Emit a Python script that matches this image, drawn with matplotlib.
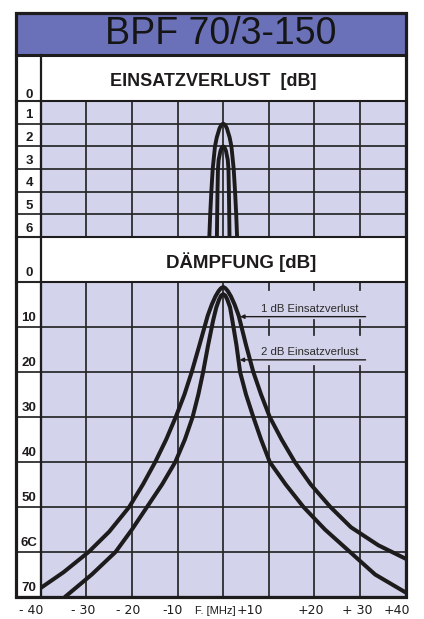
import matplotlib
matplotlib.use('Agg')
import matplotlib.pyplot as plt
from matplotlib.patches import Rectangle
from matplotlib.lines import Line2D

plt.rcParams['font.family'] = ['Liberation Sans', 'DejaVu Sans']

# ---------------- data ----------------
title = "BPF 70/3-150"
upper_title = "EINSATZVERLUST  [dB]"
lower_title = "DÄMPFUNG [dB]"

freq_grid = [-30, -20, -10, 0, 10, 20, 30]
x_tick_labels = ["- 40", "- 30", "- 20", "-10", "F. [MHz]", "+10", "+20", "+ 30", "+40"]

upper_ticks = [0, 1, 2, 3, 4, 5, 6]
lower_ticks = [0, 10, 20, 30, 40, 50, 60, 70]
lower_tick_labels = ["0", "10", "20", "30", "40", "50", "6C", "70"]

# insertion loss (upper panel)
il1_f = [-3.1, -2.85, -2.6, -2.3, -1.8, -1.4, -0.8, -0.4, 0.0, 0.4, 0.8, 1.4, 1.8, 2.3, 2.6, 2.85, 3.1]
il1_db = [6.3, 5.0, 4.0, 3.0, 2.0, 1.6, 1.2, 1.05, 1.0, 1.05, 1.2, 1.6, 2.0, 3.0, 4.0, 5.0, 6.3]
il2_f = [-1.4, -1.32, -1.25, -1.15, -1.0, -0.6, -0.3, 0.0, 0.3, 0.6, 1.0, 1.15, 1.25, 1.32, 1.4]
il2_db = [6.3, 5.0, 4.0, 3.0, 2.6, 2.2, 2.05, 2.0, 2.05, 2.2, 2.6, 3.0, 4.0, 5.0, 6.3]

# attenuation (lower panel), 1 dB insertion-loss version
att1_f = [-40, -35, -29.5, -25, -20.6, -17.6, -14.9, -12.5, -10.4, -8.5, -6.9, -5.2, -3.4,
          -2.5, -1.7, -1.0, -0.5, 0, 0.5, 1.0, 1.7, 2.5, 3.4, 5.0, 6.6, 8.3, 10.2, 12.8,
          15.7, 19.2, 23.5, 28, 34, 40]
att1_db = [68, 64.5, 60, 55.5, 50, 45, 40, 35, 30, 25, 20, 14, 7.5,
           5.0, 3.2, 2.0, 1.4, 1.1, 1.4, 2.0, 3.2, 5.0, 7.5, 14, 20, 25, 30, 35,
           40, 45, 50, 54.5, 58.5, 61.5]
# attenuation, 2 dB insertion-loss version
att2_f = [-34.7, -28.8, -23.6, -20.0, -16.7, -13.4, -10.5, -8.4, -6.7, -5.45, -4.4, -3.3,
          -2.2, -1.5, -0.9, -0.45, 0, 0.45, 0.9, 1.5, 2.0, 2.9, 3.7, 5.0, 6.6, 8.3, 10.2,
          13.7, 17.6, 22.3, 27.8, 33.3, 40]
att2_db = [70, 65, 60, 55, 50, 45, 40, 35, 30, 25, 20, 14,
           8.5, 5.6, 3.9, 3.0, 2.7, 3.0, 3.9, 5.6, 8.5, 14, 20, 25, 30, 35, 40,
           45, 50, 55, 60, 65, 69]

ann_labels = ["1 dB Einsatzverlust", "2 dB Einsatzverlust"]

# ---------------- layout ----------------
W, H = 424, 619
fig = plt.figure(figsize=(W / 100, H / 100), dpi=100)

def fx(px):
    return px / W

def fy(py):
    return 1 - py / H

LAV = '#d3d4ec'
BLUE = '#6a71b8'
INK = '#1d1b1b'
GRID = '#262626'
GLW = 1.25

L, R = 40.7, 405.7
FL, FR, FT, FB = 16, 406, 13, 597

fig.add_artist(Rectangle((fx(FL), fy(55)), fx(FR) - fx(FL), fy(FT) - fy(55),
                         transform=fig.transFigure, facecolor=BLUE, edgecolor='none', zorder=0))

ax_u = fig.add_axes([fx(L), fy(237), fx(R) - fx(L), fy(101) - fy(237)])
ax_l = fig.add_axes([fx(L), fy(597), fx(R) - fx(L), fy(282) - fy(597)])

for ax in (ax_u, ax_l):
    ax.set_facecolor(LAV)
    ax.set_xlim(-40, 40)
    ax.set_xticks([])
    ax.set_yticks([])
    for s in ax.spines.values():
        s.set_linewidth(1.5)
        s.set_color(INK)

ax_u.set_ylim(6, 0)
ax_l.set_ylim(70, 0)

xa_left = (FL - L) / (R - L)
lab_x = (29 - L) / (R - L)

# upper grid
for f in freq_grid:
    ax_u.axvline(f, color=GRID, lw=GLW, zorder=1)
for v in upper_ticks[1:-1]:
    ax_u.plot([xa_left, 1], [v, v], transform=ax_u.get_yaxis_transform(),
              color=GRID, lw=GLW, clip_on=False, zorder=1)
for v in (0, 6):
    ax_u.plot([xa_left, 0], [v, v], transform=ax_u.get_yaxis_transform(),
              color=GRID, lw=1.5, clip_on=False, zorder=1)
for v in upper_ticks:
    ax_u.text(lab_x, v - (0.27 if v == 0 else 0.37), str(v), transform=ax_u.get_yaxis_transform(),
              ha='center', va='center', fontsize=9.5, fontweight='bold', color=INK, clip_on=False)

# lower grid
for f in freq_grid:
    if f <= 0:
        ax_l.axvline(f, color=GRID, lw=GLW, zorder=1)
    else:
        ax_l.plot([f, f], [20, 70], color=GRID, lw=GLW, zorder=1)
        ax_l.plot([f, f], [0, 1.8], color=GRID, lw=GLW, zorder=1)
        ax_l.plot([f, f], [8.4, 11.8], color=GRID, lw=GLW, zorder=1)
        ax_l.plot([f, f], [18.6, 20], color=GRID, lw=GLW, zorder=1)
for v in lower_ticks[1:-1]:
    ax_l.plot([xa_left, 1], [v, v], transform=ax_l.get_yaxis_transform(),
              color=GRID, lw=GLW, clip_on=False, zorder=1)
for v in (0, 70):
    ax_l.plot([xa_left, 0], [v, v], transform=ax_l.get_yaxis_transform(),
              color=GRID, lw=1.5, clip_on=False, zorder=1)
for v, t in zip(lower_ticks, lower_tick_labels):
    ax_l.text(lab_x, v - 2.0, t, transform=ax_l.get_yaxis_transform(),
              ha='center', va='center', fontsize=9.5, fontweight='bold', color=INK, clip_on=False)

# curves
kw = dict(color=INK, zorder=3, solid_joinstyle='round', solid_capstyle='round')
ax_u.plot(il1_f, il1_db, lw=2.8, **kw)
ax_u.plot(il2_f, il2_db, lw=2.8, **kw)
ax_l.plot(att1_f, att1_db, lw=2.9, **kw)
ax_l.plot(att2_f, att2_db, lw=2.9, **kw)

# annotations
ann_text_y = [6.0, 15.6]
ann_line_y = [7.7, 17.3]
ann_tip_x = [3.7, 3.6]
for lab, ty, ly, tx in zip(ann_labels, ann_text_y, ann_line_y, ann_tip_x):
    ax_l.text(18.9, ty, lab, ha='center', va='center', fontsize=8.2, color='#2a2a2a', zorder=4)
    ax_l.annotate('', xy=(tx, ly), xytext=(31.2, ly),
                  arrowprops=dict(arrowstyle='-|>', lw=1.0, color=INK,
                                  mutation_scale=6, shrinkA=0, shrinkB=0), zorder=4)

# x labels
x_lab_pos = [-42.1, -30.7, -20.9, -11.2, -1.8, 5.9, 19.2, 29.3, 38.1]
for p, t in zip(x_lab_pos, x_tick_labels):
    num = t.startswith(('-', '+'))
    fig.text(fx(L + (p + 40) / 80 * (R - L)), fy(611), t,
             ha='center', va='center', fontsize=9 if num else 8,
             family=['DejaVu Sans'] if num else ['Liberation Sans'], color=INK)

# texts in bands
fig.text(fx(221), fy(34), title, ha='center', va='center', fontsize=27, color='#151515')
fig.text(fx(213), fy(82), upper_title, ha='center', va='center', fontsize=13, fontweight='bold', color=INK)
fig.text(fx(241), fy(262), lower_title, ha='center', va='center', fontsize=13.5, fontweight='bold', color=INK)

# frame lines
def hline(y, x0, x1, lw):
    fig.add_artist(Line2D([fx(x0), fx(x1)], [fy(y), fy(y)], transform=fig.transFigure,
                          color=INK, lw=lw, zorder=10))

def vline(x, y0, y1, lw):
    fig.add_artist(Line2D([fx(x), fx(x)], [fy(y0), fy(y1)], transform=fig.transFigure,
                          color=INK, lw=lw, zorder=10))

hline(55, FL, FR, 2.2)
vline(L, 55, FB, 1.6)
fig.add_artist(Rectangle((fx(FL), fy(FB)), fx(FR) - fx(FL), fy(FT) - fy(FB),
                         transform=fig.transFigure, facecolor='none', edgecolor=INK,
                         lw=2.3, zorder=11))

fig.savefig('out.png', dpi=100, facecolor='white')
